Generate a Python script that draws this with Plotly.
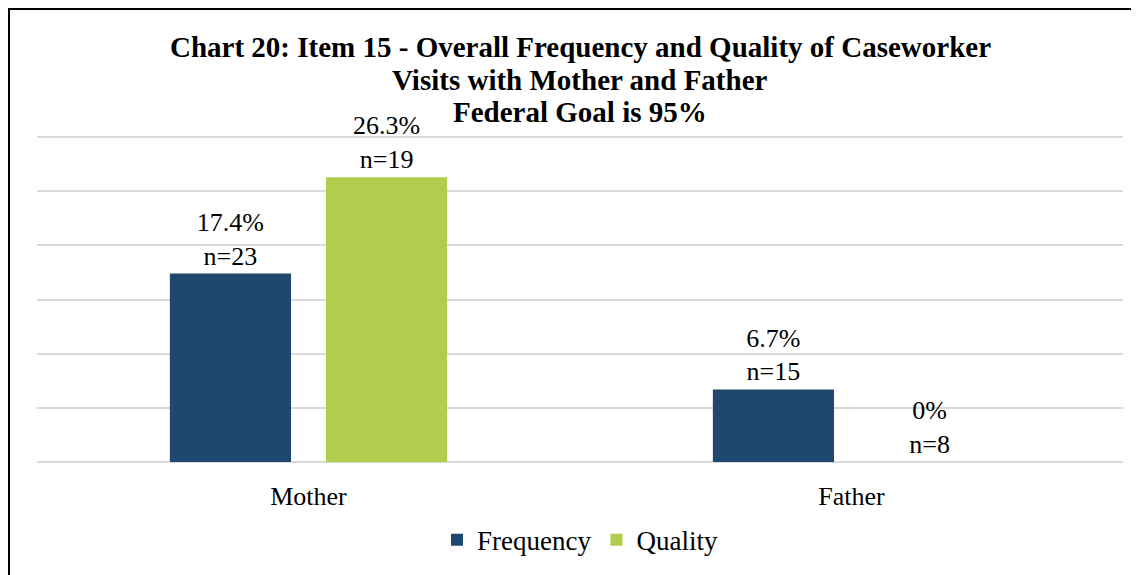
import plotly.graph_objects as go

categories = ["Mother", "Father"]
frequency = [17.4, 6.7]
quality = [26.3, 0]
frequency_n = [23, 15]
quality_n = [19, 8]

title_lines = [
    "Chart 20: Item 15 - Overall Frequency and Quality of Caseworker",
    "Visits with Mother and Father",
    "Federal Goal is 95%",
]

serif = "Liberation Serif, Times New Roman, serif"


def labels(vals, ns):
    # value on top, case count underneath
    return [f"{v:g}%<br>n={n}" for v, n in zip(vals, ns)]


fig = go.Figure()
fig.add_trace(go.Bar(
    x=categories, y=frequency, name="Frequency",
    marker=dict(color="#1F4770", line=dict(width=0)),
    text=labels(frequency, frequency_n), textposition="outside",
    textfont=dict(family=serif, size=26, color="#000"),
    cliponaxis=False,
))
fig.add_trace(go.Bar(
    x=categories, y=quality, name="Quality",
    marker=dict(color="#B2CD4E", line=dict(width=0)),
    text=labels(quality, quality_n), textposition="outside",
    textfont=dict(family=serif, size=26, color="#000"),
    cliponaxis=False,
))

# title as separate lines so the line spacing stays tight like the original
for i, line in enumerate(title_lines):
    fig.add_annotation(
        text=f"<b>{line}</b>", xref="paper", yref="paper",
        x=0.5, y=1.273 - i * 0.1, xanchor="center", yanchor="middle",
        showarrow=False, font=dict(family=serif, size=29, color="#000"),
    )

# the html page has an 8px body margin, so the figure sits 8px right/down
fig.update_layout(
    width=1139, height=575,
    margin=dict(l=29, r=24, t=128, b=121, autoexpand=False),
    paper_bgcolor="#FFF", plot_bgcolor="#FFF",
    barmode="group", bargap=0.425, bargroupgap=0.224,
    font=dict(family=serif, size=26, color="#000"),
    xaxis=dict(showline=False, ticks="", tickfont=dict(size=26), ticklabelstandoff=16,
               fixedrange=True),
    yaxis=dict(range=[0, 30.1], tickvals=[0, 5, 10, 15, 20, 25, 30], showticklabels=False,
               gridcolor="#D9D9D9", gridwidth=2,
               zeroline=True, zerolinecolor="#D9D9D9", zerolinewidth=2),
    legend=dict(orientation="h", x=0.5, xanchor="center", y=-0.24, yanchor="middle",
                font=dict(size=27), itemwidth=30, traceorder="normal"),
    shapes=[dict(type="rect", xref="paper", yref="paper",
                 x0=-28 / 1086, x1=1.2, y0=-0.6, y1=1 + 127 / 326,
                 line=dict(color="#000", width=2), fillcolor="rgba(0,0,0,0)",
                 layer="above")],
)

fig.write_html("out.html")
